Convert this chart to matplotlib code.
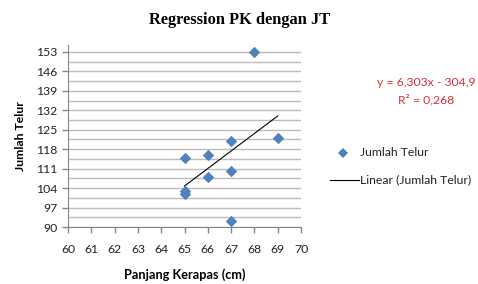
import matplotlib
matplotlib.use("Agg")
import matplotlib.pyplot as plt
import numpy as np

# Data
panjang_kerapas = [68, 65, 66, 67, 69, 67, 66, 65, 65, 67]
jumlah_telur = [153, 115, 116, 121, 122, 110, 108, 103, 102, 92]
y_ticks = [90, 97, 104, 111, 118, 125, 132, 139, 146, 153]
x_ticks = [60, 61, 62, 63, 64, 65, 66, 67, 68, 69, 70]
title = "Regression PK dengan JT"
equation = "y = 6,303x - 304,9"
r2_text = "R² = 0,268"

plt.rcParams['font.family'] = ['Lato', 'DejaVu Sans']

fig = plt.figure(figsize=(4.78, 2.84), dpi=100)
ax = fig.add_axes([68/478, 57/284, 233/478, 182/284])

grid_c = '#bcbcbc'
gy = np.arange(90, 156.1, 3.5)
for v in gy:
    ax.axhline(v, color=grid_c, lw=1.0, zorder=1)

x = np.array(panjang_kerapas, dtype=float)
y = np.array(jumlah_telur, dtype=float)
ax.scatter(x, y, marker='D', s=34, color='#4f81bd', zorder=3, linewidths=0)

coef = np.polyfit(x, y, 1)
xl = np.array([x.min(), x.max()])
ax.plot(xl, np.polyval(coef, xl), color='black', lw=0.8, zorder=2)

ax.set_xlim(60, 70)
ax.set_ylim(90, 155.5)
ax.set_xticks(x_ticks)
ax.set_yticks(y_ticks)
ax.tick_params(axis='both', labelsize=8.8, colors='#868686', labelcolor='#222222',
               length=4, width=1)
ax.tick_params(axis='x', pad=8)
for s in ['top', 'right']:
    ax.spines[s].set_visible(False)
for s in ['left', 'bottom']:
    ax.spines[s].set_color('#868686')

ax.set_xlabel("Panjang Kerapas (cm)", fontsize=9.2, fontweight='bold', labelpad=10)
ax.set_ylabel("Jumlah Telur", fontsize=8.8, fontweight='bold', labelpad=7)

fig.text(240/478, 1 - 20/284, title, ha='center', va='center', fontsize=11.8,
         fontweight='bold', family=['Liberation Serif', 'DejaVu Serif'])

fig.text(426/478, 1 - 83/284, equation, ha='center', va='center', fontsize=8.8, color='#d0343c')
fig.text(426/478, 1 - 100/284, r2_text, ha='center', va='center', fontsize=8.8, color='#d0343c')

# Legend drawn manually in figure coordinates
fig.lines.append(plt.Line2D([343/478], [1 - 153/284], marker='D', markersize=5.5,
                            color='#4f81bd', markeredgewidth=0, transform=fig.transFigure))
fig.text(360/478, 1 - 153/284, "Jumlah Telur", ha='left', va='center', fontsize=8.8, color='#222222')
fig.lines.append(plt.Line2D([330/478, 359/478], [1 - 180/284, 1 - 180/284], color='black',
                            lw=0.8, transform=fig.transFigure))
fig.text(360/478, 1 - 180/284, "Linear (Jumlah Telur)", ha='left', va='center', fontsize=8.8, color='#222222')

fig.savefig("out.png", dpi=100)
